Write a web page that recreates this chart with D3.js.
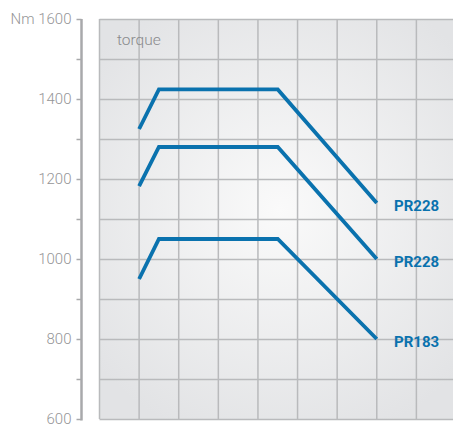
<!DOCTYPE html>
<html><head><meta charset="utf-8">
<script src="https://cdn.jsdelivr.net/npm/d3@7"></script>
<style>body{margin:0;background:#fff}svg{display:block}</style>
</head><body>
<script>
const xSteps = [1, 1.5, 4.5, 7];
const seriesNames = ["PR228", "PR228", "PR183"];
const seriesTop = [1325, 1424, 1424, 1140];
const seriesMid = [1182, 1280, 1280, 1000];
const seriesLow = [950, 1050, 1050, 800];
const yTicks = [600, 700, 800, 900, 1000, 1100, 1200, 1300, 1400, 1500, 1600];
const yLabels = [600, 800, 1000, 1200, 1400, 1600];

const series = [seriesTop, seriesMid, seriesLow];
const W = 453, H = 424;
const svg = d3.select("body").append("svg").attr("width", W).attr("height", H);

const y = d3.scaleLinear().domain([600, 1600]).range([419, 19]);
const x = d3.scaleLinear().domain([0, 9]).range([99.5, 456]);

const defs = svg.append("defs");
const rg = defs.append("radialGradient").attr("id", "bg")
  .attr("gradientUnits", "userSpaceOnUse")
  .attr("cx", 280).attr("cy", 210).attr("r", 240);
rg.append("stop").attr("offset", "0").attr("stop-color", "#fafafa");
rg.append("stop").attr("offset", "1").attr("stop-color", "#e2e3e5");

svg.append("rect").attr("x", x(0)).attr("y", y(1600)).attr("width", W - x(0)).attr("height", y(600) - y(1600))
  .attr("fill", "url(#bg)");

const g = svg.append("g");
g.selectAll(".hg").data(yTicks).join("line")
  .attr("x1", x(0)).attr("x2", W).attr("y1", d => Math.round(y(d)) + 0.5).attr("y2", d => Math.round(y(d)) + 0.5)
  .attr("stroke", "#b9babc").attr("stroke-width", 1.5);
g.selectAll(".vg").data(d3.range(0, 9)).join("line")
  .attr("x1", d => x(d)).attr("x2", d => x(d)).attr("y1", y(1600)).attr("y2", y(600))
  .attr("stroke", "#b9babc").attr("stroke-width", 1.5);

const axis = d3.axisLeft(y).tickValues(yTicks).tickSize(5).tickPadding(5)
  .tickFormat(d => yLabels.includes(d) ? (d === 1600 ? "Nm 1600" : d) : "");
const ag = svg.append("g").attr("transform", "translate(81.5,0)").call(axis);
ag.select(".domain").remove();
ag.append("line").attr("x1", 0).attr("x2", 0).attr("y1", y(1600)).attr("y2", y(600) + 1.5)
  .attr("stroke", "#a8a9ab").attr("stroke-width", 2.5);
ag.selectAll(".tick line").attr("stroke", "#a8a9ab").attr("stroke-width", 1.5);
ag.selectAll(".tick text").attr("fill", "#959597").attr("font-family", "Roboto")
  .attr("font-weight", 300).attr("font-size", 15);

svg.append("text").attr("x", 117).attr("y", 45).text("torque")
  .attr("font-family", "Roboto").attr("font-weight", 300).attr("font-size", 15.5).attr("fill", "#8a8a8c");

const line = d3.line().x((d, i) => x(xSteps[i])).y(d => y(d));
svg.selectAll(".s").data(series).join("path")
  .attr("d", d => line(d)).attr("fill", "none").attr("stroke", "#0a72ae")
  .attr("stroke-width", 3.8).attr("stroke-linejoin", "miter");

svg.selectAll(".lab").data(series).join("text")
  .attr("x", 394).attr("y", d => y(d[3]) + 8)
  .text((d, i) => seriesNames[i])
  .attr("font-family", "Roboto").attr("font-weight", 700).attr("font-size", 15).attr("fill", "#0a72ae");
</script>
</body></html>
